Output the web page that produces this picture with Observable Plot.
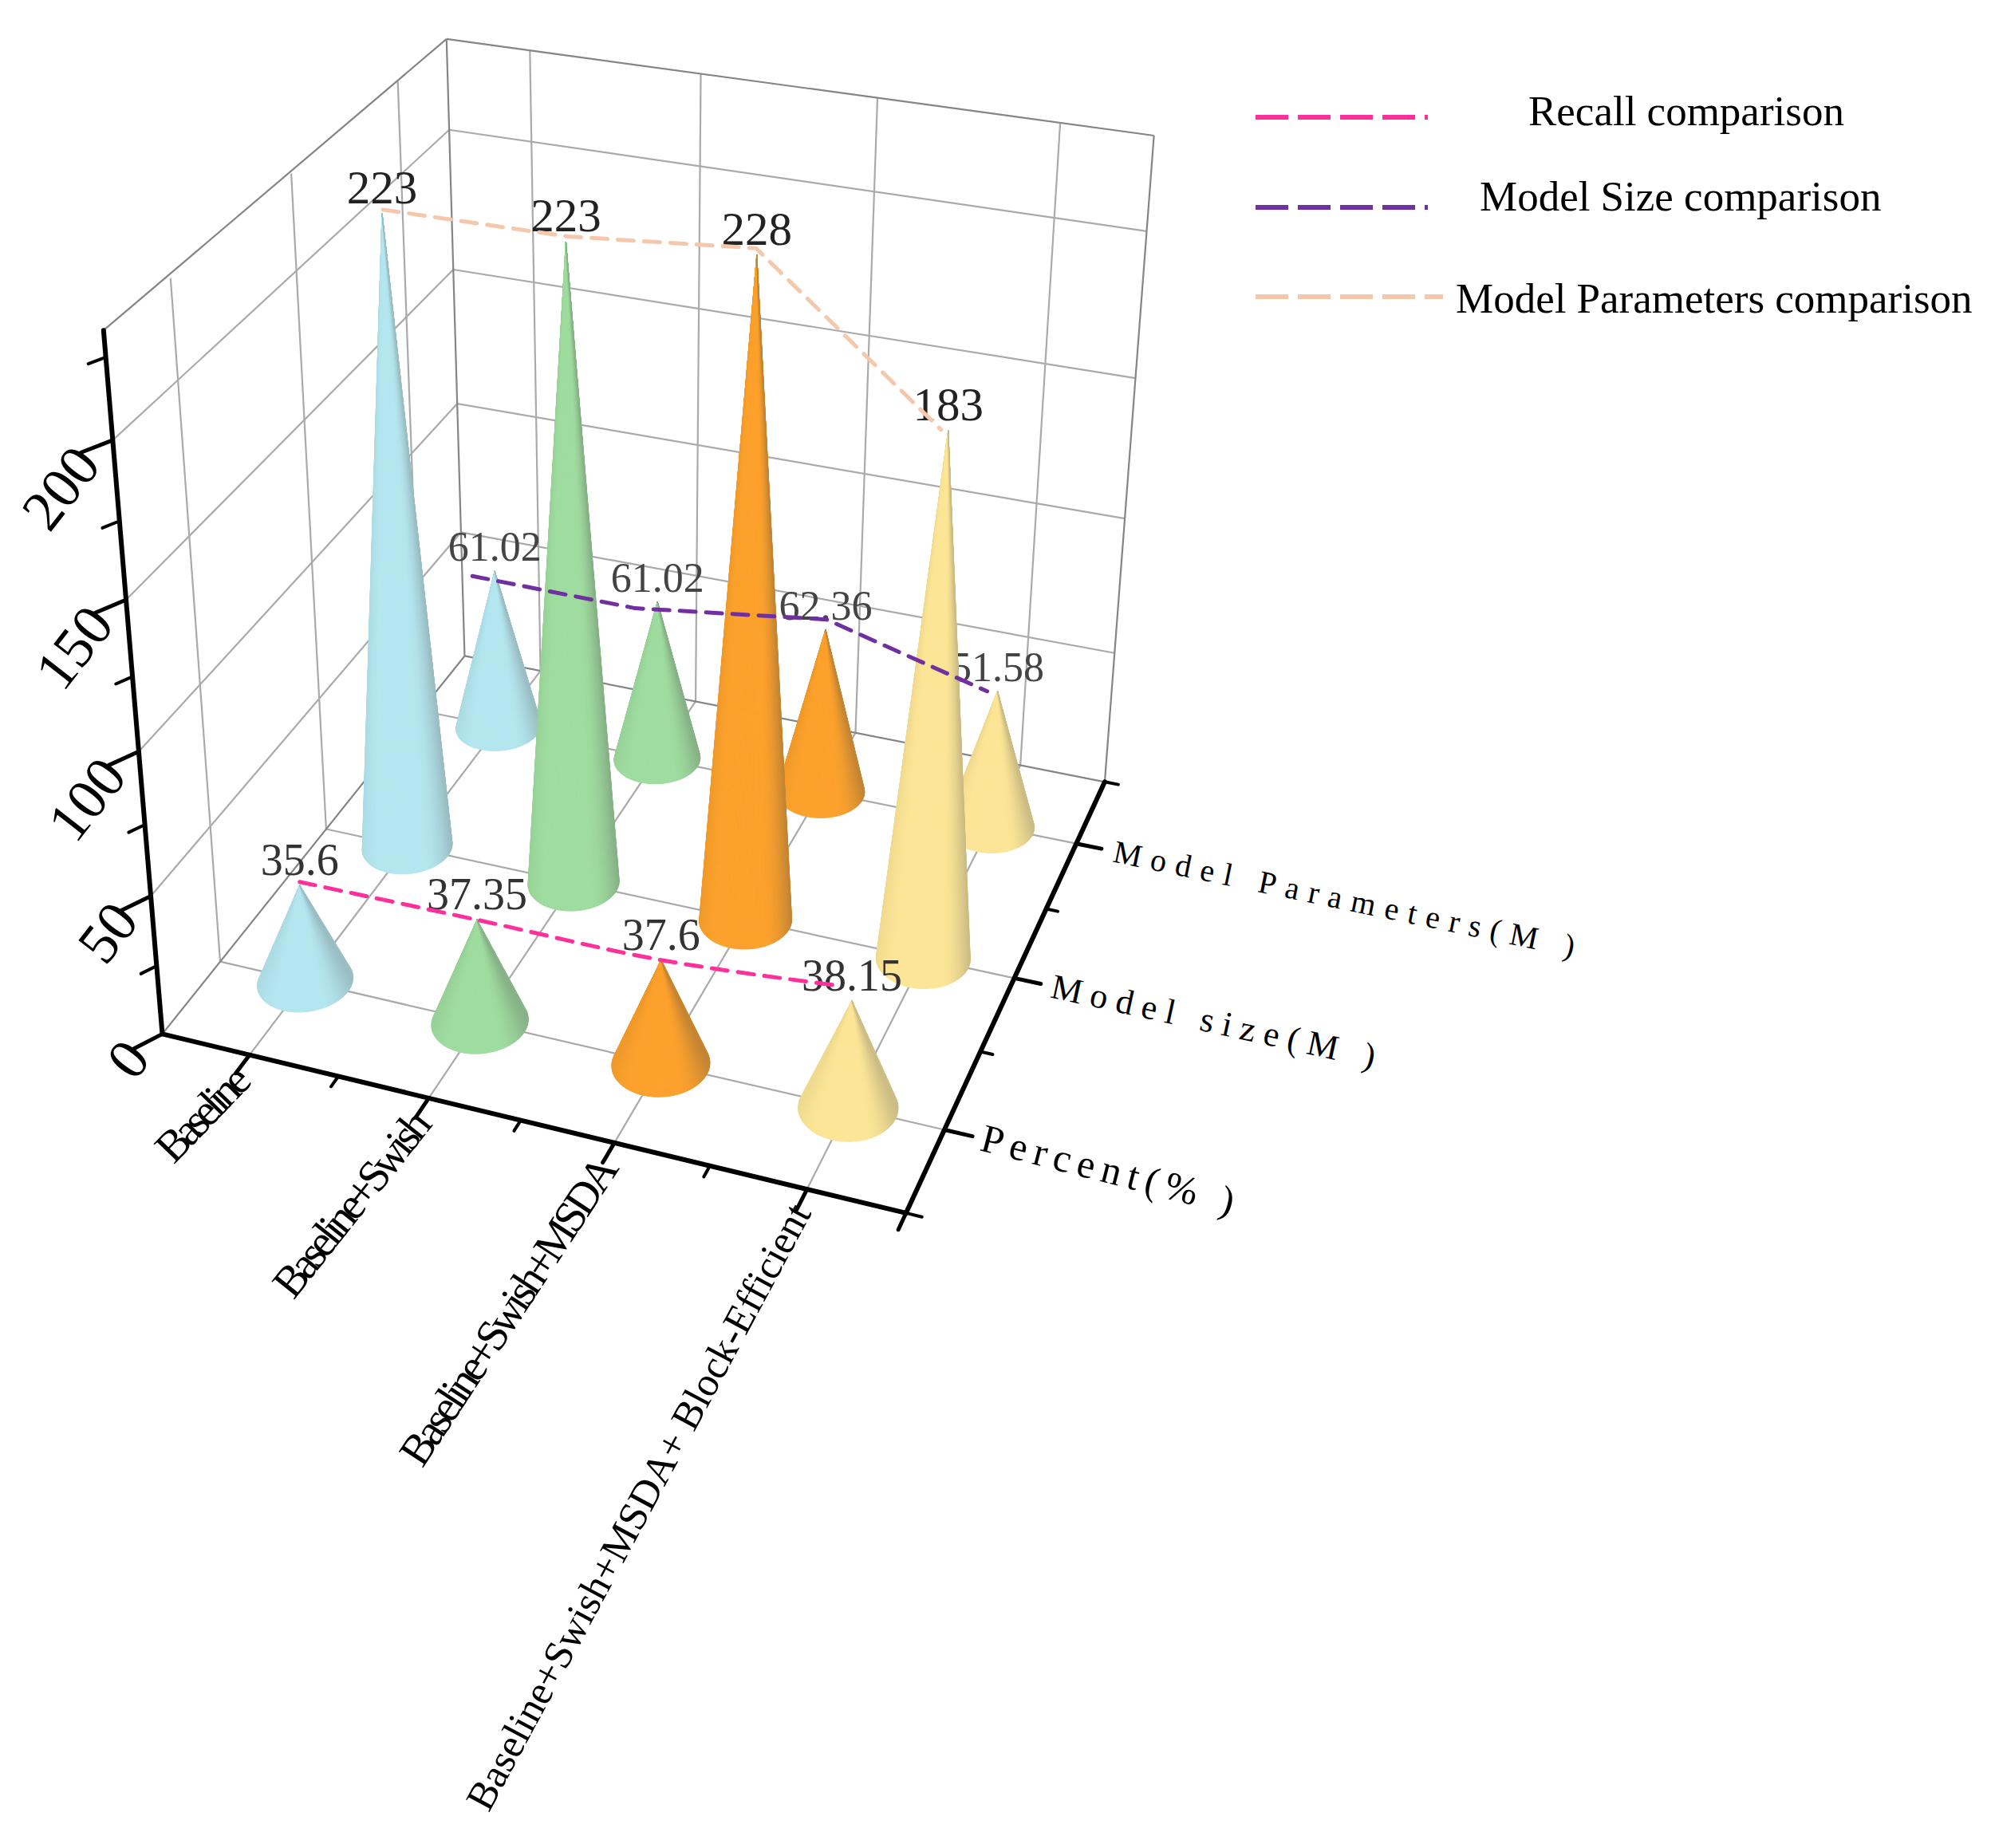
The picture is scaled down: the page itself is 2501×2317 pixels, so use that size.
<!DOCTYPE html>
<html><head><meta charset="utf-8">
<script src="https://cdn.jsdelivr.net/npm/d3@7"></script>
<script src="https://cdn.jsdelivr.net/npm/@observablehq/plot@0.6"></script>
<style>
html,body{margin:0;background:#fff}
#wrap{position:relative;width:2501px;height:2317px;overflow:hidden}
#wrap svg{display:block}
.lg{position:absolute;font:53px/53px "Liberation Serif",serif;color:#000;white-space:pre}
.sw{position:absolute;overflow:visible}
</style></head>
<body><div id="wrap"></div>
<script>
// ---- data ----
const categories=["Baseline","Baseline+Swish","Baseline+Swish+MSDA","Baseline+Swish+MSDA+ Block-Efficient"];
const rowLabels=["Percent(% )","Model size(M )","Model Parameters(M )"];
const recall=[35.6,37.35,37.6,38.15];
const parameters=[223,223,228,183];
const modelSize=[61.02,61.02,62.36,51.58];
const zTicks=[0,50,100,150,200];
const zMinor=[25,75,125,175,225];
const coneColors=["#b4e6ef","#9fdc9f","#fca12c","#fce596"];
const legendNames=["Recall comparison","Model Size comparison","Model Parameters comparison"];
const lineColors=["#ff2f9c","#7030a0","#f6c8ab"];

// ---- 3D camera (homography from box space to page pixels) ----
const zMax=233, boxTop=.993;
const camera=[[853.04555,485.70826,-87.67752,202.98121],[118.41891,-323.1584,-927.09269,1295.86925],[-0.06981,0.18342,-0.10847,1]];
const proj=(X,Y,W)=>{const w=camera[2][0]*X+camera[2][1]*Y+camera[2][2]*W+1;
  return [(camera[0][0]*X+camera[0][1]*Y+camera[0][2]*W+camera[0][3])/w,(camera[1][0]*X+camera[1][1]*Y+camera[1][2]*W+camera[1][3])/w];};
const cx=i=>(i+.5)/categories.length, ry=j=>(j+.5)/rowLabels.length, vz=v=>v/zMax;
const seg=(a,b,k={})=>{const p=proj(...a),q=proj(...b);return {x1:p[0],y1:p[1],x2:q[0],y2:q[1],...k};};

// ---- grid ----
const grid=[];
categories.forEach((_,i)=>{
  grid.push(seg([cx(i),0,0],[cx(i),1,0]));
  grid.push(seg([cx(i),1,0],[cx(i),1,boxTop]));
});
rowLabels.forEach((_,j)=>{
  grid.push(seg([0,ry(j),0],[1,ry(j),0]));
  grid.push(seg([0,ry(j),0],[0,ry(j),boxTop]));
});
zTicks.slice(1).forEach(v=>{
  grid.push(seg([0,0,vz(v)],[0,1,vz(v)]));
  grid.push(seg([0,1,vz(v)],[1,1,vz(v)]));
});
const frame=[seg([0,0,0],[0,1,0]),seg([0,1,0],[1,1,0]),seg([0,1,0],[0,1,boxTop]),seg([1,1,0],[1,1,boxTop]),seg([0,0,1],[0,1,boxTop]),seg([0,1,boxTop],[1,1,boxTop])];
const axes=[seg([0,0,0],[0,0,1]),seg([0,0,0],[1,0,0]),seg([1,0,0],[1,1,0])];
const ticks=[];
const tickZ=(v,l)=>ticks.push(seg([0,0,vz(v)],[-.02*l,-.04*l,vz(v)],{w:l<.8?4:5}));
zTicks.forEach(v=>tickZ(v,1));zMinor.forEach(v=>tickZ(v,.55));
const tickX=(X,l)=>ticks.push(seg([X,0,0],[X,-.04*l,0],{w:l<.8?4:5}));
categories.forEach((_,i)=>{tickX(cx(i),1);if(i<3)tickX((cx(i)+cx(i+1))/2,.55);});
tickX(1,.8);
const tickY=(Y,l)=>ticks.push(seg([1,Y,0],[1+.036*l,Y,0],{w:l<.8?4:5}));
rowLabels.forEach((_,j)=>{tickY(ry(j),1);if(j<2)tickY((ry(j)+ry(j+1))/2,.45);});
tickY(0,.55);tickY(1,.55);

// ---- cones ----
const seriesByRow=[recall,parameters,modelSize];
const labelSize=[56,59,52];
const labelFill=["#333","#222","#444"];
const radX=.062, radY=.067, SAMPLES=120;
const shade=(col,u)=>{ // u: -1 (left edge) .. 1 (right edge) across the cone
  const c=d3.rgb(col);
  let k=u<-.6?1-.05*Math.pow((-u-.6)/.4,2):1;
  if(u>.4)k=1-.17*Math.pow((u-.4)/.6,1.8);
  const grey=u>.4?.16*Math.pow((u-.4)/.6,2):0;
  const m=(c.r+c.g+c.b)/3;
  const f=v=>(v*(1-grey)+m*grey)*k;
  return d3.rgb(f(c.r),f(c.g),f(c.b)).formatHex();
};
function coneStrips(i,j,v){
  const X=cx(i),Y=ry(j),tip=proj(X,Y,vz(v));
  const base=d3.range(SAMPLES).map(k=>{const t=k/SAMPLES*2*Math.PI;return proj(X+radX*Math.cos(t),Y+radY*Math.sin(t),0);});
  let hull=d3.polygonHull([tip,...base]);
  const ti=hull.findIndex(p=>p===tip);
  hull=[...hull.slice(ti+1),...hull.slice(0,ti)];
  const xs=hull.map(p=>p[0]),x0=d3.min(xs),x1=d3.max(xs);
  const cols=[];
  for(let k=0;k<hull.length-1;k++){
    const mid=(hull[k][0]+hull[k+1][0])/2;
    const u=(mid-x0)/(x1-x0)*2-1;
    cols.push({a:hull[k],b:hull[k+1],c:shade(coneColors[i],u)});
  }
  const pts=[];
  cols.forEach((s,n)=>{
    [tip,s.a,s.b].forEach(p=>pts.push({x:p[0],y:p[1],id:`${i}-${j}-${n}`,c:s.c}));
  });
  return pts;
}
const rowMarks=[];
[2,1,0].forEach(j=>{
  const strips=categories.flatMap((_,i)=>coneStrips(i,j,seriesByRow[j][i]));
  rowMarks.push(Plot.line(strips,{x:"x",y:"y",z:"id",fill:"c",stroke:"c",strokeWidth:1,curve:"linear-closed"}));
  const labels=categories.map((_,i)=>{const v=seriesByRow[j][i],p=proj(cx(i),ry(j),vz(v));return {x:p[0],y:p[1],t:String(v)};});
  rowMarks.push(Plot.text(labels,{x:"x",y:"y",text:"t",dy:-13,lineAnchor:"bottom",textAnchor:"middle",fontFamily:"Liberation Serif",fontSize:labelSize[j],fill:labelFill[j]}));
});

// ---- dashed comparison lines (slightly offset from the tips, as drawn in the figure) ----
const lineNudge=[[[0,-4],[0,0],[0,0],[-16,-19]],[[-28,6],[-28,8],[1,-13],[-13,0]],[[1,-5],[2,-7],[-1,-9],[-9,-1]]];
const lineRows=[0,2,1];
const dashed=lineRows.map((j,n)=>categories.map((_,i)=>{
  const p=proj(cx(i),ry(j),vz(seriesByRow[j][i]));
  return {x:p[0]+lineNudge[n][i][0],y:p[1]+lineNudge[n][i][1]};
}));

// ---- axis labels ----
const catLabels=categories.map((t,i)=>{const p=proj(cx(i),0,0);return {x:p[0],y:p[1],t};});
const catAngle=[-46,-51.5,-56.7,-61.7], catLen=[144,282,451,855], catFont=[56,56,56,51];
const zLabels=zTicks.map(v=>{const p=proj(0,0,vz(v));return {x:p[0],y:p[1],t:String(v)};});
const rowLab=rowLabels.map((t,j)=>{const p=proj(1,ry(j),0);return {x:p[0],y:p[1],t};});
const rowAngle=[14.4,12.4,11.7], rowLen=[326,415,590], rowFont=[50,44,40];

const chart=Plot.plot({
  width:2501,height:2317,margin:0,
  x:{domain:[0,2501],range:[0,2501],axis:null},
  y:{domain:[0,2317],range:[0,2317],axis:null},
  color:{type:"identity"},
  marks:[
    Plot.link(grid,{x1:"x1",y1:"y1",x2:"x2",y2:"y2",stroke:"#aaaaaa",strokeWidth:2.2}),
    Plot.link(frame,{x1:"x1",y1:"y1",x2:"x2",y2:"y2",stroke:"#858585",strokeWidth:2.2}),
    Plot.link(axes,{x1:"x1",y1:"y1",x2:"x2",y2:"y2",stroke:"#000",strokeWidth:6,strokeLinecap:"round"}),
    Plot.link(ticks,{x1:"x1",y1:"y1",x2:"x2",y2:"y2",stroke:"#000",strokeWidth:"w",strokeLinecap:"round"}),
    ...rowMarks,
    ...dashed.map((d,n)=>Plot.line(d,{x:"x",y:"y",stroke:()=>lineColors[n],strokeWidth:5,strokeDasharray:"20,13",curve:n===0?"catmull-rom":"linear"})),
    Plot.text(catLabels,{x:"x",y:"y",text:"t",dx:-8,dy:22,rotate:(d,i)=>catAngle[i],textAnchor:"end",lineAnchor:"middle",fontFamily:"Liberation Serif",fontSize:(d,i)=>catFont[i],fill:"#000"}),
    Plot.text(zLabels,{x:"x",y:"y",text:"t",dx:-31,dy:18,rotate:-52,textAnchor:"end",lineAnchor:"middle",fontFamily:"Liberation Serif",fontSize:72,fill:"#000"}),
    Plot.text(rowLab,{x:"x",y:"y",text:"t",dx:47,dy:10,rotate:(d,j)=>rowAngle[j],textAnchor:"start",lineAnchor:"middle",fontFamily:"Liberation Serif",fontSize:(d,j)=>rowFont[j],fill:"#000"})
  ]
});
// stretched / condensed label runs, as set in the figure
const runLength=new Map([...categories.map((t,i)=>[t,catLen[i]]),...rowLabels.map((t,j)=>[t,rowLen[j]])]);
chart.querySelectorAll("text").forEach(t=>{
  const L=runLength.get(t.textContent);
  if(L){t.setAttribute("textLength",L);t.setAttribute("lengthAdjust","spacing");}
});
const wrap=document.getElementById("wrap");
wrap.appendChild(chart);

// ---- legend ----
const legendLayout=[{top:113,left:1916,y:147,x2:1790},{top:220,left:1855,y:260,x2:1790},{top:348,left:1825,y:372,x2:1809}];
legendNames.forEach((name,n)=>{
  const l=legendLayout[n];
  const d=document.createElement("div");d.className="lg";d.textContent=name;d.style.left=l.left+"px";d.style.top=l.top+"px";wrap.appendChild(d);
  const s=document.createElementNS("http://www.w3.org/2000/svg","svg");
  s.setAttribute("class","sw");s.setAttribute("width",l.x2-1574);s.setAttribute("height",10);
  s.style.left="1574px";s.style.top=(l.y-5)+"px";
  s.innerHTML=`<line x1="0" y1="5" x2="${l.x2-1574}" y2="5" stroke="${lineColors[n]}" stroke-width="6" stroke-dasharray="41,12"/>`;
  wrap.appendChild(s);
});
</script></body></html>
